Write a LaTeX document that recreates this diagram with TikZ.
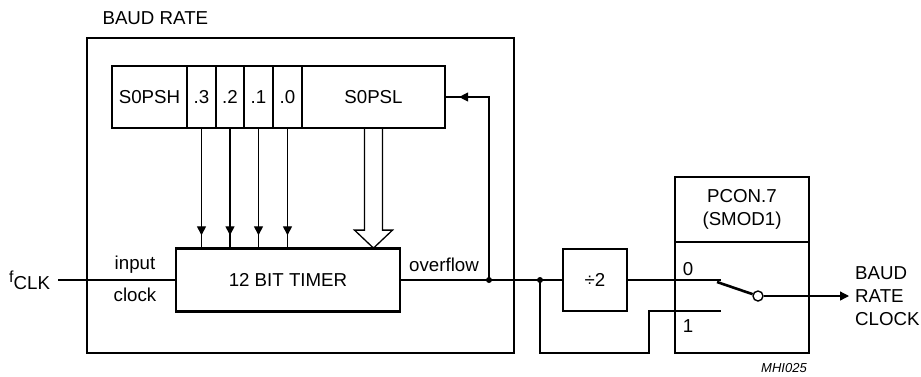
\documentclass[tikz,border=0pt]{standalone}
\usepackage{fontspec}
\setmainfont{Liberation Sans}
\usetikzlibrary{arrows.meta,decorations.markings,calc}
\begin{document}
\begin{tikzpicture}[x=1pt,y=-1pt,font=\fontsize{18.7}{23}\selectfont,
  box/.style={draw,line width=2.4pt,inner sep=0pt},
  cell/.style={draw,line width=2.2pt,inner sep=0pt,minimum height=62pt},
  sig/.style={line width=1.3pt},
  tipa/.tip={Triangle[length=9pt,width=9pt]},
  midarrow/.style={postaction=decorate,decoration={markings,mark=at position -#1 with {\arrow{tipa}}}},
  dot/.style={circle,fill,inner sep=0pt,minimum size=6pt}]
\useasboundingbox (0,0) rectangle (921,376);
% outer box
\node[box,minimum width=427pt,minimum height=315pt] (outer) at (300.5,195.5) {};
\node[anchor=west] (brlabel) at (99,18) {BAUD RATE};
% register
\node[cell,minimum width=75pt] (psh) at (149.5,97) {S0PSH};
\node[cell,minimum width=29pt] (b3) at (201.5,97) {.3};
\node[cell,minimum width=28pt] (b2) at (230,97) {.2};
\node[cell,minimum width=29pt] (b1) at (258.5,97) {.1};
\node[cell,minimum width=29pt] (b0) at (287.5,97) {.0};
\node[cell,minimum width=143pt] (psl) at (373.5,97) {S0PSL};
% timer
\node[box,minimum width=224pt,minimum height=63pt] (timer) at (288,280) {12 BIT TIMER};
% bit arrows
\foreach \b in {b3,b2,b1,b0}
  \draw[sig,midarrow=12pt] (\b.south) -- (\b.south |- timer.north);
% hollow arrow
\draw[sig,fill=white] ($(psl.south)+(-9,0)$) -- ($(psl.south)+(-9,101)$) -- ($(psl.south)+(-19,101)$)
  -- ($(psl.south)+(0,119)$) -- ($(psl.south)+(19,101)$) -- ($(psl.south)+(9,101)$) -- ($(psl.south)+(9,0)$);
% input clock
\coordinate (fclk) at (58,280);
\node[anchor=base west,inner sep=0pt] (fclklabel) at (9,289) {\raisebox{6.5pt}{\fontsize{16}{16}\selectfont f}CLK};
\draw[sig] (fclk) -- (timer.west);
\node (input) at (135,265) {input};
\node (clock) at (135,295) {clock};
\node (ovf) at (444,265) {overflow};
% divide by 2
\node[box,minimum width=64pt,minimum height=62pt] (div) at (595,280) {÷2};
\node[dot] (d1) at (489,280) {};
\node[dot] (d2) at (540,280) {};
\draw[sig] (timer.east) -- (div.west);
\draw[sig,midarrow=13pt] (d1.center) -- (d1.center |- psl.east) -- (psl.east);
% PCON
\node[box,minimum width=134pt,minimum height=65pt,align=center] (pconh) at (742,209.5) {PCON.7\\(SMOD1)};
\node[box,minimum width=134pt,minimum height=111pt] (pconl) at (742,297.5) {};
\coordinate (z0) at (721,280);
\coordinate (z1) at (721,311);
\coordinate (piv) at (717,282);
\draw[sig] (div.east) -- (z0);
\draw[sig] (d2.center) -- (540,353) -- (649,353) -- (649,311) -- (z1);
\node[inner sep=0pt] (l0) at (688,269) {0};
\node[inner sep=0pt] (l1) at (688,326) {1};
\node[circle,draw,line width=1.4pt,fill=white,inner sep=0pt,minimum size=10pt] (sc) at (758,296) {};
\draw[line width=2.6pt] (piv) -- (sc);
\coordinate (otip) at (849,296);
\draw[sig,-{tipa}] (sc) -- (otip);
\node[anchor=west,align=left,inner sep=0pt] (brc) at (855,296) {BAUD\\RATE\\CLOCK};
\node (mhi) at (784,368) {\fontsize{13}{13}\selectfont\itshape MHI025};
\end{tikzpicture}
\end{document}
